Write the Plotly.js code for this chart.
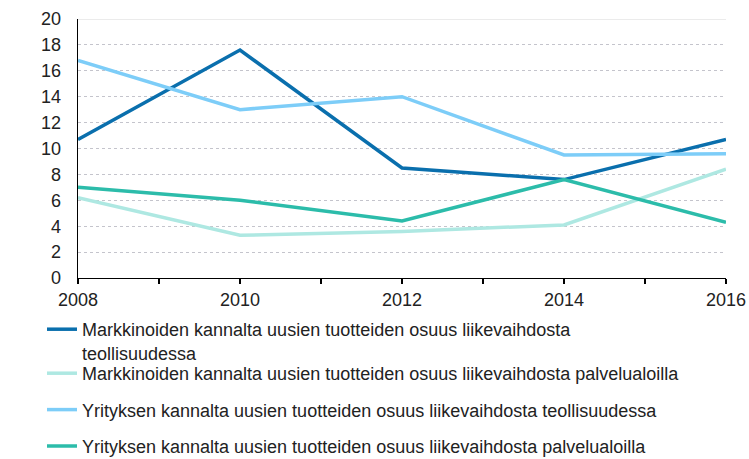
<!DOCTYPE html>
<html>
<head>
<meta charset="utf-8">
<script src="https://cdn.plot.ly/plotly-3.0.1.min.js"></script>
<style>
html,body{margin:0;padding:0;background:#fff;}
#chart{width:749px;height:459px;}
</style>
</head>
<body>
<div id="chart"></div>
<script>
const years = [2008, 2010, 2012, 2014, 2016];
const seriesNames = [
  "Markkinoiden kannalta uusien tuotteiden osuus liikevaihdosta<br>teollisuudessa",
  "Markkinoiden kannalta uusien tuotteiden osuus liikevaihdosta palvelualoilla",
  "Yrityksen kannalta uusien tuotteiden osuus liikevaihdosta teollisuudessa",
  "Yrityksen kannalta uusien tuotteiden osuus liikevaihdosta palvelualoilla"
];
const markTeol = [10.7, 17.6, 8.5, 7.6, 10.7];
const markPalv = [6.2, 3.3, 3.6, 4.1, 8.4];
const yritTeol = [16.8, 13.0, 14.0, 9.5, 9.6];
const yritPalv = [7.0, 6.0, 4.4, 7.6, 4.3];
const colors = ["#0a6fad", "#aee8e2", "#7dcdf8", "#2cbcaa"];
const tickYears = [2008, 2009, 2010, 2011, 2012, 2013, 2014, 2015, 2016];
const tickLabels = ["2008", "", "2010", "", "2012", "", "2014", "", "2016"];

const values = [markTeol, markPalv, yritTeol, yritPalv];
const traces = values.map((v, i) => ({
  x: years, y: v, name: seriesNames[i], type: "scatter", mode: "lines",
  legendgroup: "g" + i,
  legend: i === 0 ? "legend" : "legend2",
  line: {color: colors[i], width: 3.5}
}));

const legendFont = {size: 18, family: "Liberation Sans, Arial, sans-serif", color: "#222"};
const layout = {
  width: 749, height: 459,
  margin: {l: 78, r: 23, t: 19, b: 181, autoexpand: false},
  paper_bgcolor: "#fff", plot_bgcolor: "#fff",
  font: {family: "Liberation Sans, Arial, sans-serif", size: 18, color: "#222"},
  xaxis: {
    range: [2008, 2016], tickvals: tickYears, ticktext: tickLabels,
    ticks: "outside", ticklen: 5, tickcolor: "#000", tickwidth: 1.3,
    showline: true, linecolor: "#000", linewidth: 1.3, showgrid: false, zeroline: false,
    tickfont: {size: 18}
  },
  yaxis: {
    range: [0, 20], dtick: 2, ticks: "", showline: true, linecolor: "#000", linewidth: 1.3,
    showgrid: true, gridcolor: "#c4c4cc", griddash: "dot", gridwidth: 1, zeroline: false,
    tickfont: {size: 18}, ticklabelstandoff: 12
  },
  shapes: [{type: "line", xref: "paper", yref: "y", x0: 0, x1: 1, y0: 20, y1: 20, line: {color: "#d8d8d8", width: 1}}],
  annotations: [{text: "%", xref: "container", yref: "paper", x: 20/749, y: 10/20, xanchor: "center", yanchor: "middle", showarrow: false, font: {size: 18}}],
  showlegend: true,
  legend: {
    orientation: "v", xref: "container", yref: "container", x: 42/749, y: 1 - 311/459,
    xanchor: "left", yanchor: "top", valign: "top",
    font: legendFont, bgcolor: "rgba(0,0,0,0)"
  },
  legend2: {
    orientation: "v", xref: "container", yref: "container", x: 42/749, y: 1 - 355/459,
    xanchor: "left", yanchor: "top", valign: "top", tracegroupgap: 10,
    font: legendFont, bgcolor: "rgba(0,0,0,0)"
  }
};
Plotly.newPlot("chart", traces, layout, {displayModeBar: false, staticPlot: true});
</script>
</body>
</html>
